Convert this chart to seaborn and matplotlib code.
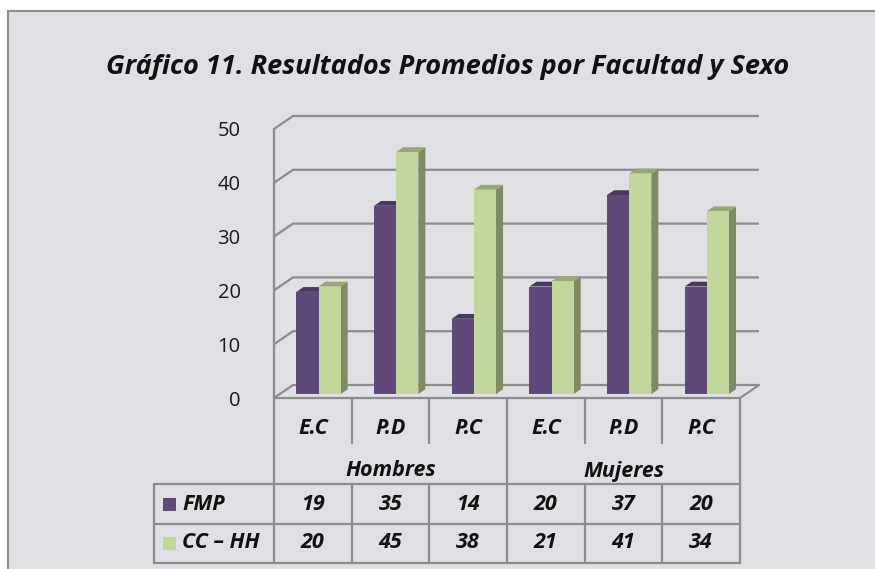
import numpy as np
import pandas as pd
import matplotlib
matplotlib.use("Agg")
import matplotlib.pyplot as plt
import matplotlib.transforms as mtransforms
from matplotlib.patches import Polygon, Rectangle
from matplotlib.lines import Line2D
import seaborn as sns

# ---------------- data ----------------
title = "Gráfico 11. Resultados Promedios por Facultad y Sexo"
groups = ["Hombres", "Mujeres"]
faculties = ["E.C", "P.D", "P.C"]
series = ["FMP", "CC – HH"]
fmp = [19, 35, 14, 20, 37, 20]
cchh = [20, 45, 38, 21, 41, 34]
yticks = [0, 10, 20, 30, 40, 50]

colors = {"FMP": "#5F497A", "CC – HH": "#C3D69B"}
bg = "#E0DFE4"
gridc = "#8C8C8C"

cats = [f"{g} {f}" for g in groups for f in faculties]
df = pd.DataFrame({
    "cat": cats * 2,
    "serie": [series[0]] * 6 + [series[1]] * 6,
    "value": fmp + cchh,
})

# ---------------- figure ----------------
sns.set_theme(style="white")
plt.rcParams["font.family"] = ["Open Sans", "DejaVu Sans"]
W, H = 875, 569
fig = plt.figure(figsize=(W / 100, H / 100), dpi=100)
fig.patch.set_facecolor("white")

def fx(px):
    return px / W

def fy(py):
    return 1 - py / H

# outer frame
fig.add_artist(Rectangle((fx(8), fy(H + 5)), fx(W + 10) - fx(8), fy(11) - fy(H + 5),
                         transform=fig.transFigure, facecolor=bg, edgecolor=gridc,
                         linewidth=1.5, zorder=0))

# plot area: front face of floor from px 274..740, y 398 (0) .. 129 (50)
L, R, B, T = 274, 740, 398, 129
ax = fig.add_axes([fx(L), fy(B), fx(R) - fx(L), fy(T) - fy(B)])
ax.set_facecolor("none")

sns.barplot(data=df, x="cat", y="value", hue="serie", order=cats, hue_order=series,
            palette=colors, width=0.57, saturation=1, legend=False, ax=ax,
            edgecolor="none", linewidth=0, errorbar=None)

ax.set_xlim(-0.5, 5.5)
ax.set_ylim(0, 50)
for s in ax.spines.values():
    s.set_visible(False)
ax.set_xlabel("")
ax.set_ylabel("")
ax.set_xticks([])
ax.set_yticks(yticks)
ax.set_yticklabels([str(v) for v in yticks])
ax.tick_params(axis="y", length=0, pad=24, labelsize=14.5, labelcolor="#1a1a1a")
ax.grid(False)

# depth in data units
pxx = (R - L) / 6.0
pxy = (B - T) / 50.0
DX = 19 / pxx
DY = 13 / pxy

# back walls + gridlines
for v in yticks:
    ax.plot([-0.5, -0.5 + DX, 5.5 + DX], [v, v + DY, v + DY], color=gridc, lw=1.6,
            clip_on=False, zorder=1, solid_capstyle="butt")
ax.plot([-0.5, 5.5, 5.5 + DX], [0, 0, DY], color=gridc, lw=1.6, clip_on=False, zorder=1)
ax.plot([-0.5, -0.5], [0, 50], color=gridc, lw=1.6, clip_on=False, zorder=1)

# 3D bars
k0, kd = 0.30, 0.37
ox, oy = k0 * DX, k0 * DY
bx, by = kd * DX, kd * DY

def shade(c, f):
    r, g, b = matplotlib.colors.to_rgb(c)
    return (r * f, g * f, b * f)

bars = list(ax.patches)
for i, p in enumerate(bars):
    z = 3 if i < 6 else 4
    x0 = p.get_x() + ox
    h = p.get_height()
    w = p.get_width()
    p.set_x(x0)
    p.set_y(oy)
    p.set_zorder(z + 0.2)
    p.set_clip_on(False)
    fc = p.get_facecolor()[:3]
    x1 = x0 + w
    y0, y1 = oy, oy + h
    side = Polygon([(x1, y0), (x1 + bx, y0 + by), (x1 + bx, y1 + by), (x1, y1)],
                   closed=True, facecolor=shade(fc, 0.65), edgecolor="none",
                   zorder=z, clip_on=False)
    top = Polygon([(x0, y1), (x1, y1), (x1 + bx, y1 + by), (x0 + bx, y1 + by)],
                  closed=True, facecolor=shade(fc, 0.78), edgecolor="none",
                  zorder=z + 0.1, clip_on=False)
    ax.add_patch(side)
    ax.add_patch(top)

# title
fig.text(fx(448), fy(67), title, ha="center", va="center", fontsize=19.5,
         fontweight="bold", fontstyle="italic", color="#111111")

# ---------------- data table ----------------
bt = mtransforms.blended_transform_factory(ax.transData, fig.transFigure)
lw = 1.6
def vline(xd, py0, py1, trans=bt):
    fig.add_artist(Line2D([xd, xd], [fy(py0), fy(py1)], transform=trans, color=gridc, lw=lw))

row_top, row_mid, row_bot = 484, 524, 563
left_px = 154
# group separators (full height)
for xd in [-0.5, 2.5, 5.5]:
    vline(xd, B, row_bot)
# inner category separators
for xd in [0.5, 1.5, 3.5, 4.5]:
    vline(xd, B, 443)
    vline(xd, row_top, row_bot)
# horizontal rows
for py in [row_top, row_mid, row_bot]:
    fig.add_artist(Line2D([fx(left_px), fx(R)], [fy(py), fy(py)], transform=fig.transFigure,
                          color=gridc, lw=lw))
fig.add_artist(Line2D([fx(left_px), fx(left_px)], [fy(row_top), fy(row_bot)],
                      transform=fig.transFigure, color=gridc, lw=lw))

tfs = 15.5
tk = dict(fontsize=tfs, fontweight="bold", fontstyle="italic", color="#111111",
          ha="center", va="center")
for i, c in enumerate(cats):
    fig.text(i, fy(428), faculties[i % 3], transform=bt, **tk)
for gi, g in enumerate(groups):
    fig.text(gi * 3 + 1, fy(471), g, transform=bt, **tk)
for i, v in enumerate(fmp):
    fig.text(i, fy(504), str(v), transform=bt, **tk)
for i, v in enumerate(cchh):
    fig.text(i, fy(543), str(v), transform=bt, **tk)

for si, (s, py) in enumerate(zip(series, [504, 543])):
    fig.add_artist(Rectangle((fx(163), fy(py + 6.5)), fx(13), 13 / H,
                             transform=fig.transFigure, facecolor=colors[s],
                             edgecolor="none"))
    fig.text(fx(182), fy(py), s, ha="left", va="center", fontsize=tfs,
             fontweight="bold", fontstyle="italic", color="#111111")

fig.savefig("out.png", dpi=100, facecolor="white")
